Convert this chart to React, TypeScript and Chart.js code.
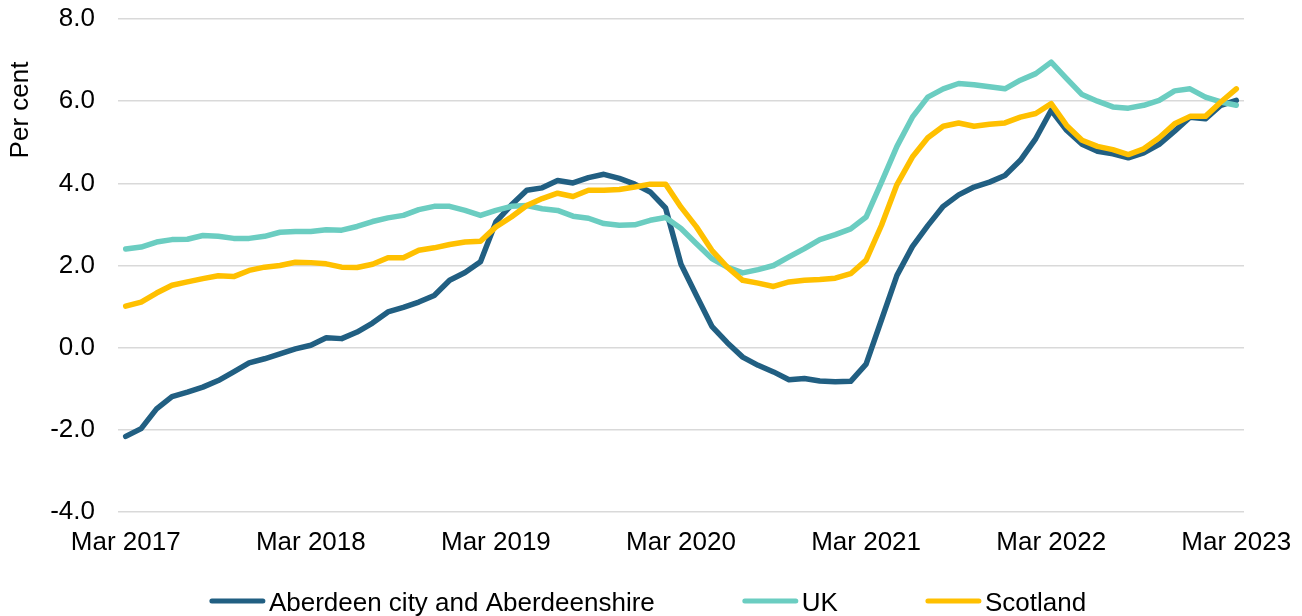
import React, { useEffect, useRef } from "react";
import { Chart, registerables } from "chart.js";

Chart.register(...registerables);

const MONTHS = ["Jan", "Feb", "Mar", "Apr", "May", "Jun", "Jul", "Aug", "Sep", "Oct", "Nov", "Dec"];
const START_YEAR = 2017;
const START_MONTH = 2; // March
const N_POINTS = 73;
const labels: string[] = [];
for (let i = 0; i < N_POINTS; i++) {
  const m = (START_MONTH + i) % 12;
  const y = START_YEAR + Math.floor((START_MONTH + i) / 12);
  labels.push(`${MONTHS[m]} ${y}`);
}

const aberdeen = [
  -2.16, -1.97, -1.49, -1.19, -1.08, -0.96, -0.8, -0.59, -0.37, -0.27, -0.15, -0.03,
  0.06, 0.24, 0.22, 0.38, 0.6, 0.87, 0.98, 1.11, 1.27, 1.64, 1.83, 2.09,
  3.06, 3.47, 3.83, 3.89, 4.07, 4.01, 4.14, 4.22, 4.12, 3.98, 3.79, 3.4,
  2.03, 1.27, 0.52, 0.12, -0.23, -0.43, -0.59, -0.78, -0.75, -0.81, -0.83, -0.82,
  -0.4, 0.68, 1.76, 2.46, 2.97, 3.44, 3.72, 3.91, 4.03, 4.19, 4.56, 5.09,
  5.78, 5.29, 4.95, 4.78, 4.72, 4.62, 4.74, 4.95, 5.27, 5.61, 5.57, 5.9,
  6.02,
];

const uk = [
  2.4, 2.45, 2.57, 2.63, 2.64, 2.73, 2.71, 2.66, 2.66, 2.71, 2.81, 2.83,
  2.83, 2.87, 2.86, 2.95, 3.07, 3.16, 3.22, 3.36, 3.44, 3.44, 3.34, 3.22,
  3.34, 3.44, 3.46, 3.38, 3.34, 3.2, 3.15, 3.02, 2.98, 2.99, 3.1, 3.17,
  2.9, 2.53, 2.17, 1.96, 1.82, 1.9, 2.0, 2.21, 2.41, 2.63, 2.75, 2.89,
  3.18, 4.03, 4.9, 5.61, 6.1, 6.3, 6.43, 6.4, 6.35, 6.3, 6.51, 6.67,
  6.95, 6.55, 6.16, 6.0, 5.86, 5.83, 5.9, 6.02, 6.25, 6.3, 6.1, 5.98,
  5.9,
];

const scotland = [
  1.01, 1.11, 1.33, 1.52, 1.6, 1.68, 1.75, 1.73, 1.88, 1.96, 2.0, 2.08,
  2.07, 2.04, 1.96, 1.95, 2.03, 2.19, 2.19, 2.37, 2.43, 2.51, 2.57, 2.59,
  2.94, 3.18, 3.46, 3.63, 3.76, 3.68, 3.83, 3.83, 3.85, 3.91, 3.98, 3.98,
  3.42, 2.94, 2.37, 1.96, 1.64, 1.57, 1.49, 1.6, 1.64, 1.66, 1.69, 1.8,
  2.13, 2.98, 3.97, 4.64, 5.11, 5.39, 5.47, 5.39, 5.44, 5.47, 5.61, 5.7,
  5.94, 5.41, 5.05, 4.9, 4.82, 4.7, 4.84, 5.11, 5.45, 5.63, 5.63, 5.98,
  6.3,
];

const SERIES_NAMES = ["Aberdeen city and Aberdeenshire", "UK", "Scotland"];
const SERIES_COLORS = ["#215F82", "#6BCDC1", "#FFC000"];
const Y_TITLE = "Per cent";
const Y_MIN = -4;
const Y_MAX = 8;
const Y_STEP = 2;

const FONT = "'Liberation Sans', Arial, sans-serif";
const FONT_SIZE = 26;

const customPlugin = {
  id: "customDecor",
  afterDraw(chart: any) {
    const ctx = chart.ctx as CanvasRenderingContext2D;
    ctx.save();
    // y-axis title
    ctx.fillStyle = "#000";
    ctx.font = `${FONT_SIZE}px ${FONT}`;
    ctx.translate(21, 110);
    ctx.rotate(-Math.PI / 2);
    ctx.textAlign = "center";
    ctx.textBaseline = "middle";
    ctx.fillText(Y_TITLE, 0, 0);
    ctx.restore();

    // legend
    ctx.save();
    ctx.font = `${FONT_SIZE}px ${FONT}`;
    const lineLen = 55;
    const gap = 4;
    const itemGap = 88;
    const widths = SERIES_NAMES.map((n) => ctx.measureText(n).width);
    const total =
      widths.reduce((a, b) => a + b, 0) + SERIES_NAMES.length * (lineLen + gap) + itemGap * (SERIES_NAMES.length - 1);
    let x = 648 - total / 2;
    const lineY = 601;
    const textY = 611;
    SERIES_NAMES.forEach((name, i) => {
      ctx.strokeStyle = SERIES_COLORS[i];
      ctx.lineWidth = 5;
      ctx.lineCap = "round";
      ctx.beginPath();
      ctx.moveTo(x + 2, lineY);
      ctx.lineTo(x + lineLen - 2, lineY);
      ctx.stroke();
      ctx.fillStyle = "#000";
      ctx.textAlign = "left";
      ctx.textBaseline = "alphabetic";
      ctx.fillText(name, x + lineLen + gap, textY);
      x += lineLen + gap + widths[i] + itemGap;
    });
    ctx.restore();
  },
};

export default function App() {
  const canvasRef = useRef<HTMLCanvasElement | null>(null);

  useEffect(() => {
    document.body.style.margin = "0";
    const canvas = canvasRef.current;
    if (!canvas) return;
    const seriesData = [aberdeen, uk, scotland];
    const chart = new Chart(canvas, {
      type: "line",
      data: {
        labels,
        datasets: seriesData.map((d, i) => ({
          label: SERIES_NAMES[i],
          data: d,
          borderColor: SERIES_COLORS[i],
          backgroundColor: SERIES_COLORS[i],
          borderWidth: 5.5,
          pointRadius: 0,
          pointHoverRadius: 0,
          tension: 0,
          borderJoinStyle: "round" as const,
          borderCapStyle: "round" as const,
          fill: false,
          order: 2 - i,
        })),
      },
      options: {
        responsive: false,
        animation: false,
        devicePixelRatio: 1,
        layout: { padding: { left: 0, right: 58, top: 19, bottom: 54 } },
        plugins: {
          legend: { display: false },
          tooltip: { enabled: false },
          title: { display: false },
        },
        scales: {
          x: {
            type: "category",
            offset: true,
            grid: { display: false, drawTicks: false },
            border: { display: false },
            ticks: {
              autoSkip: false,
              maxRotation: 0,
              minRotation: 0,
              padding: 15,
              color: "#000",
              font: { family: FONT, size: FONT_SIZE },
              callback: (_v: any, idx: number) => (idx % 12 === 0 ? labels[idx] : ""),
            },
            afterFit: (s: any) => {
              s.height = 50;
              s.paddingLeft = 0;
              s.paddingRight = 0;
            },
          },
          y: {
            min: Y_MIN,
            max: Y_MAX,
            grid: { color: "#D9D9D9", lineWidth: 1.5, drawTicks: false },
            border: { display: false },
            ticks: {
              stepSize: Y_STEP,
              padding: 23,
              color: "#000",
              font: { family: FONT, size: FONT_SIZE },
              callback: (v: any) => Number(v).toFixed(1),
            },
            afterFit: (s: any) => {
              s.width = 118;
              s.paddingTop = 0;
              s.paddingBottom = 0;
            },
          },
        },
      },
      plugins: [customPlugin],
    });
    return () => chart.destroy();
  }, []);

  return (
    <div style={{ width: 1302, height: 616 }}>
      <canvas ref={canvasRef} width={1302} height={616} style={{ display: "block" }} />
    </div>
  );
}
